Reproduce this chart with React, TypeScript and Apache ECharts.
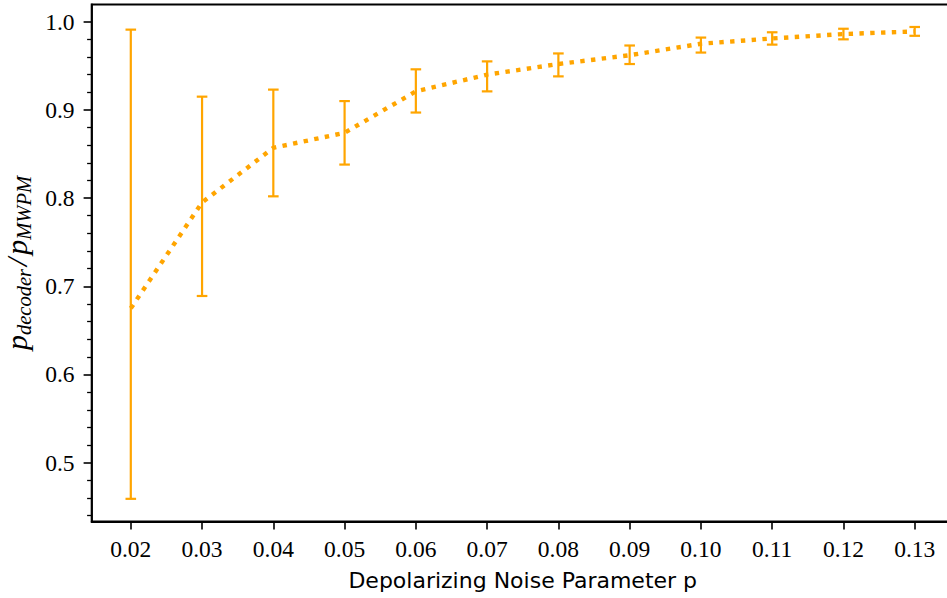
import React, { useEffect, useRef } from "react";
import * as echarts from "echarts";

const noiseLevels = [0.02, 0.03, 0.04, 0.05, 0.06, 0.07, 0.08, 0.09, 0.1, 0.11, 0.12, 0.13];
const ratioMean = [0.675, 0.795, 0.857, 0.874, 0.921, 0.94, 0.952, 0.962, 0.975, 0.981, 0.986, 0.989];
const ratioUpper = [0.991, 0.915, 0.923, 0.91, 0.946, 0.955, 0.964, 0.973, 0.982, 0.988, 0.992, 0.994];
const ratioLower = [0.459, 0.689, 0.802, 0.838, 0.897, 0.921, 0.938, 0.952, 0.965, 0.974, 0.98, 0.984];
const xTickValues = [0.02, 0.03, 0.04, 0.05, 0.06, 0.07, 0.08, 0.09, 0.1, 0.11, 0.12, 0.13];
const yMajorTicks = [0.5, 0.6, 0.7, 0.8, 0.9, 1.0];
const yMinorTicks = [0.44, 0.46, 0.48, 0.52, 0.54, 0.56, 0.58, 0.62, 0.64, 0.66, 0.68, 0.72, 0.74, 0.76, 0.78, 0.82, 0.84, 0.86, 0.88, 0.92, 0.94, 0.96, 0.98];

const ORANGE = "#FFA500";
const X_MIN = 0.0145;
const X_MAX = 0.1355;
const Y_MIN = 0.4333;
const Y_MAX = 1.0195;

export default function App() {
  const ref = useRef<HTMLDivElement>(null);
  useEffect(() => {
    if (!ref.current) return;
    const chart = echarts.init(ref.current, undefined, { renderer: "svg" });
    const tickFont = { fontFamily: "Liberation Serif", fontSize: 23.5, color: "#000" };
    const option: any = {
      animation: false,
      backgroundColor: "#fff",
      grid: {
        left: 91.6,
        top: 4.5,
        right: 6.1,
        bottom: 76.5,
        containLabel: false,
        outerBoundsMode: "none",
        show: true,
        borderColor: "#000",
        borderWidth: 1.8,
        backgroundColor: "transparent",
      },
      xAxis: {
        type: "value",
        min: X_MIN,
        max: X_MAX,
        axisLine: { show: true, lineStyle: { color: "#000", width: 1.8 } },
        splitLine: { show: false },
        axisTick: { show: true, length: 8, customValues: xTickValues, lineStyle: { color: "#000", width: 1.6 } },
        axisLabel: {
          show: true,
          customValues: xTickValues,
          margin: 15,
          formatter: (v: number) => v.toFixed(2),
          ...tickFont,
        },
        name: "Depolarizing Noise Parameter p",
        nameLocation: "middle",
        nameGap: 48,
        nameTextStyle: { fontFamily: "DejaVu Sans", fontSize: 22, color: "#000" },
      },
      yAxis: [
        {
          type: "value",
          min: Y_MIN,
          max: Y_MAX,
          axisLine: { show: true, lineStyle: { color: "#000", width: 1.8 } },
          splitLine: { show: false },
          axisTick: { show: true, length: 8, customValues: yMajorTicks, lineStyle: { color: "#000", width: 1.6 } },
          axisLabel: {
            show: true,
            customValues: yMajorTicks,
            margin: 17,
            formatter: (v: number) => v.toFixed(1),
            ...tickFont,
          },
          name: "{p|p}{s|decoder}{sl|/}{p|p}{s|MWPM}",
          nameLocation: "middle",
          nameGap: 49.5,
          nameTextStyle: {
            color: "#000",
            rich: {
              p: { fontFamily: "Liberation Serif", fontStyle: "italic", fontSize: 30, lineHeight: 32, verticalAlign: "top", color: "#000" },
              s: { fontFamily: "Liberation Serif", fontStyle: "italic", fontSize: 20.5, padding: [13, 0, 0, 0], verticalAlign: "bottom", color: "#000" },
              sl: { fontFamily: "Liberation Serif", fontStyle: "italic", fontSize: 30, lineHeight: 32, verticalAlign: "top", color: "#000", padding: [0, 3, 0, 3] },
            },
          },
        },
        {
          type: "value",
          min: Y_MIN,
          max: Y_MAX,
          position: "left",
          axisLine: { show: false },
          splitLine: { show: false },
          axisTick: { show: true, length: 4.5, customValues: yMinorTicks, lineStyle: { color: "#000", width: 1.3 } },
          axisLabel: { show: false },
        },
      ],
      series: [
        {
          type: "custom",
          yAxisIndex: 0,
          z: 2,
          data: noiseLevels.map((x, i) => [x, ratioLower[i], ratioUpper[i]]),
          renderItem: (params: any, api: any) => {
            const x = api.value(0);
            const lo = api.coord([x, api.value(1)]);
            const hi = api.coord([x, api.value(2)]);
            const cap = 5.3;
            const style = { stroke: ORANGE, lineWidth: 2.2, fill: "none" };
            return {
              type: "group",
              children: [
                { type: "line", shape: { x1: lo[0], y1: lo[1], x2: hi[0], y2: hi[1] }, style },
                { type: "line", shape: { x1: hi[0] - cap, y1: hi[1], x2: hi[0] + cap, y2: hi[1] }, style },
                { type: "line", shape: { x1: lo[0] - cap, y1: lo[1], x2: lo[0] + cap, y2: lo[1] }, style },
              ],
            };
          },
        },
        {
          type: "line",
          yAxisIndex: 0,
          z: 3,
          data: noiseLevels.map((x, i) => [x, ratioMean[i]]),
          showSymbol: false,
          symbol: "none",
          lineStyle: { color: ORANGE, width: 4.4, type: [4.4, 6.4], cap: "butt" },
        },
      ],
    };
    chart.setOption(option);
    return () => chart.dispose();
  }, []);
  return (
    <div style={{ position: "fixed", left: 0, top: 0, width: 947, height: 598, overflow: "hidden", background: "#fff" }}>
      <div ref={ref} style={{ width: 960, height: 598 }} />
    </div>
  );
}
